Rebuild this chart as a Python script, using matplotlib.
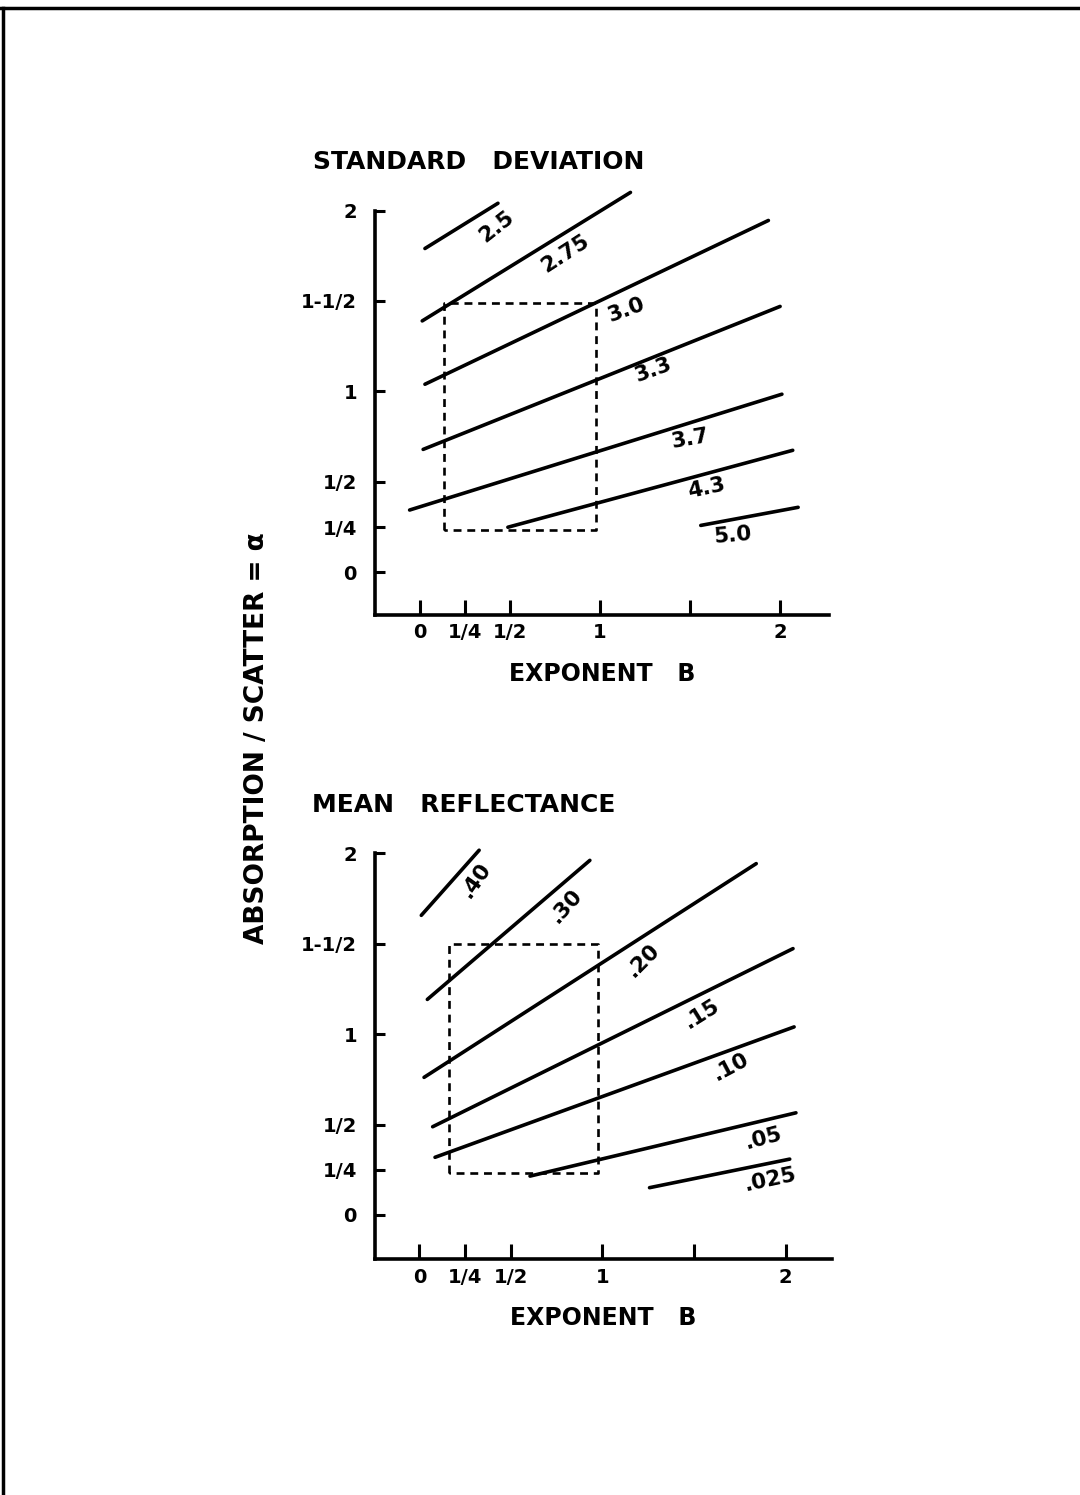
import matplotlib
matplotlib.use('Agg')
import matplotlib.pyplot as plt
from matplotlib.lines import Line2D

plt.rcParams['font.family'] = ['DejaVu Sans']
plt.rcParams['font.weight'] = 'bold'

# ---- data ----
tick_vals = [0, 0.25, 0.5, 1, 1.5, 2]
y_tick_labels = ['0', '1/4', '1/2', '1', '1-1/2', '2']
x_tick_labels = ['0', '1/4', '1/2', '1', '', '2']

# standard deviation panel: line end points (B, alpha)
sd_labels = ['2.5', '2.75', '3.0', '3.3', '3.7', '4.3', '5.0']
sd_b0 = [0.03, 0.015, 0.03, 0.02, -0.055, 0.49, 1.56]
sd_a0 = [1.79, 1.39, 1.04, 0.68, 0.345, 0.25, 0.26]
sd_b1 = [0.435, 1.17, 1.935, 2.0, 2.01, 2.07, 2.10]
sd_a1 = [2.04, 2.10, 1.945, 1.47, 0.985, 0.675, 0.36]
sd_lab_b = [0.43, 0.81, 1.15, 1.30, 1.50, 1.59, 1.74]
sd_lab_a = [1.91, 1.76, 1.45, 1.12, 0.74, 0.465, 0.205]
sd_lab_rot = [38, 33, 20, 20, 10, 12, 5]
sd_box_b = [0.135, 0.98]
sd_box_a = [0.235, 1.487]

# mean reflectance panel
mr_labels = ['.40', '.30', '.20', '.15', '.10', '.05', '.025']
mr_b0 = [0.01, 0.043, 0.025, 0.072, 0.085, 0.604, 1.257]
mr_a0 = [1.657, 1.192, 0.761, 0.488, 0.319, 0.215, 0.151]
mr_b1 = [0.326, 0.931, 1.84, 2.041, 2.047, 2.057, 2.023]
mr_a1 = [2.017, 1.961, 1.943, 1.473, 1.04, 0.565, 0.309]
mr_lab_b = [0.31, 0.80, 1.22, 1.54, 1.70, 1.88, 1.915]
mr_lab_a = [1.85, 1.71, 1.41, 1.115, 0.82, 0.425, 0.193]
mr_lab_rot = [55, 48, 45, 32, 28, 15, 12]
mr_box_b = [0.16, 0.975]
mr_box_a = [0.234, 1.501]

W, H = 1080, 1495


def px_axes(fig, x0, y_top, x1, y_bot):
    # place an axes using pixel coordinates measured on the scan
    return fig.add_axes([x0 / W, 1 - y_bot / H, (x1 - x0) / W, (y_bot - y_top) / H])


def draw_panel(ax, title, labels, b0, a0, b1, a1, lab_b, lab_a, lab_rot, box_b, box_a, xlim, ylim):
    for i in range(len(labels)):
        ax.plot([b0[i], b1[i]], [a0[i], a1[i]], color='black', lw=2.6, solid_capstyle='round', clip_on=False)
        ax.text(lab_b[i], lab_a[i], labels[i], fontsize=15.5, fontweight='bold',
                rotation=lab_rot[i], rotation_mode='anchor', ha='center', va='center')
    # dashed reading box
    ax.plot([box_b[0], box_b[0], box_b[1], box_b[1], box_b[0]],
            [box_a[0], box_a[1], box_a[1], box_a[0], box_a[0]],
            color='black', lw=1.9, linestyle=(0, (3, 2.2)))

    ax.set_xlim(xlim)
    ax.set_ylim(ylim)
    for s in ['top', 'right']:
        ax.spines[s].set_visible(False)
    for s in ['left', 'bottom']:
        ax.spines[s].set_linewidth(2.6)
    ax.set_xticks(tick_vals)
    ax.set_xticklabels(x_tick_labels)
    ax.set_yticks(tick_vals)
    ax.set_yticklabels(y_tick_labels)
    ax.tick_params(axis='y', direction='in', length=7, width=2.2, pad=13, labelsize=14)
    ax.tick_params(axis='x', direction='in', length=11, width=2.2, pad=6, labelsize=14)
    for lab in ax.get_xticklabels() + ax.get_yticklabels():
        lab.set_fontweight('bold')
    ax.set_xlabel('EXPONENT   B', fontsize=17, fontweight='bold', labelpad=14)
    ax.set_title(title, fontsize=18, fontweight='bold', loc='left', x=-0.137, pad=30)


fig = plt.figure(figsize=(W / 100, H / 100), dpi=100)

ax1 = px_axes(fig, 375, 210.5, 828.6, 615)
draw_panel(ax1, 'STANDARD   DEVIATION', sd_labels, sd_b0, sd_a0, sd_b1, sd_a1,
           sd_lab_b, sd_lab_a, sd_lab_rot, sd_box_b, sd_box_a,
           (-0.247, 2.269), (-0.235, 2.0))

ax2 = px_axes(fig, 375, 853.3, 832, 1259.3)
draw_panel(ax2, 'MEAN   REFLECTANCE', mr_labels, mr_b0, mr_a0, mr_b1, mr_a1,
           mr_lab_b, mr_lab_a, mr_lab_rot, mr_box_b, mr_box_a,
           (-0.243, 2.254), (-0.245, 2.0))

# shared y label
fig.text(257 / W, 1 - 738 / H, 'ABSORPTION / SCATTER = \u03b1', rotation=90,
         fontsize=19, fontweight='bold', ha='center', va='center')

# scan frame (top and left border)
fig.add_artist(Line2D([0, 1], [1 - 8 / H, 1 - 8 / H], transform=fig.transFigure, color='black', lw=2.5))
fig.add_artist(Line2D([3 / W, 3 / W], [0, 1 - 8 / H], transform=fig.transFigure, color='black', lw=2.5))

fig.savefig('out.png', dpi=100)
